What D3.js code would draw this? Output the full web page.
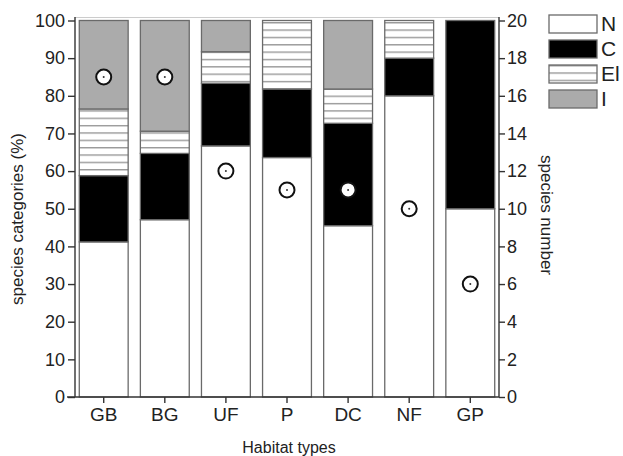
<!DOCTYPE html>
<html>
<head>
<meta charset="utf-8">
<title>habitat species categories</title>
<style>
  body { margin: 0; background: #fff; }
  text { font-family: "Liberation Sans", Arial, sans-serif; fill: #222; }
</style>
</head>
<body>
<svg width="623" height="456"></svg>
<script src="https://d3js.org/d3.v7.min.js"></script>
<script>

// values (percent of species per category)
var habitats = ["GB", "BG", "UF", "P", "DC", "NF", "GP"];
var catN  = [41.2, 47.1, 66.7, 63.6, 45.5, 80.0, 50.0];
var catC  = [17.6, 17.6, 16.6, 18.2, 27.2, 10.0, 50.0];
var catEl = [17.7,  5.9,  8.4, 18.2,  9.1, 10.0,  0.0];
var catI  = [23.5, 29.4,  8.3,  0.0, 18.2,  0.0,  0.0];
var speciesNumber = [17, 17, 12, 11, 11, 10, 6];
var categories = ["N", "C", "El", "I"];
var leftTicks = [0, 10, 20, 30, 40, 50, 60, 70, 80, 90, 100];
var rightTicks = [0, 2, 4, 6, 8, 10, 12, 14, 16, 18, 20];

(function () {
    var table = habitats.map(function (h, i) {
        return { habitat: h, N: catN[i], C: catC[i], El: catEl[i], I: catI[i], n: speciesNumber[i] };
    });

    var svg = d3.select("svg"),
        pLeft = 75, pRight = 499, pTop = 20.5, pBottom = 397;

    var x = d3.scaleBand()
        .domain(habitats)
        .range([pLeft, pRight])
        .paddingInner(0.2)
        .paddingOuter(0.07);

    var y = d3.scaleLinear().domain([0, 100]).range([pBottom, pTop]);
    var y2 = d3.scaleLinear().domain([0, 20]).range([pBottom, pTop]);

    // hatch pattern for El
    var pat = svg.append("defs").append("pattern")
        .attr("id", "hatch")
        .attr("patternUnits", "userSpaceOnUse")
        .attr("width", 10)
        .attr("height", 7.35);
    pat.append("rect").attr("width", 10).attr("height", 7.35).attr("fill", "#fff");
    pat.append("rect").attr("width", 10).attr("height", 1.4).attr("fill", "#999");

    var fills = { N: "#fff", C: "#000", El: "url(#hatch)", I: "#ababab" };

    // frame top line
    svg.append("line")
        .attr("x1", pLeft).attr("x2", pRight)
        .attr("y1", 17.5).attr("y2", 17.5)
        .attr("stroke", "#ccc").attr("stroke-width", 1.2);

    var series = d3.stack().keys(categories)(table);

    svg.append("g").selectAll("g")
        .data(series)
        .enter().append("g")
        .attr("fill", function (d) { return fills[d.key]; })
        .selectAll("rect")
        .data(function (d) { return d.filter(function (e) { return e[1] - e[0] > 0; }); })
        .enter().append("rect")
        .attr("x", function (d) { return x(d.data.habitat); })
        .attr("y", function (d) { return y(d[1]); })
        .attr("width", x.bandwidth())
        .attr("height", function (d) { return y(d[0]) - y(d[1]); })
        .attr("stroke", "#6a6a6a")
        .attr("stroke-width", 1.3);

    // species number markers
    var marks = svg.append("g").selectAll("g")
        .data(table)
        .enter().append("g")
        .attr("transform", function (d) {
            return "translate(" + (x(d.habitat) + x.bandwidth() / 2) + "," + y2(d.n) + ")";
        });
    marks.append("circle").attr("r", 7.5).attr("fill", "#fff").attr("stroke", "#111").attr("stroke-width", 2);
    marks.append("circle").attr("r", 1).attr("fill", "#333");

    // axes
    var axisL = svg.append("g")
        .attr("transform", "translate(" + pLeft + ",0)")
        .call(d3.axisLeft(y).tickValues(leftTicks).tickSize(7).tickPadding(3).tickSizeOuter(0));
    var axisR = svg.append("g")
        .attr("transform", "translate(" + pRight + ",0)")
        .call(d3.axisRight(y2).tickValues(rightTicks).tickSize(6).tickPadding(2).tickSizeOuter(0));
    var axisB = svg.append("g")
        .attr("transform", "translate(0," + pBottom + ")")
        .call(d3.axisBottom(x).tickSize(6).tickPadding(5).tickSizeOuter(0));

    [axisL, axisR].forEach(function (a) {
        a.select(".domain").attr("d", "M0," + pBottom + "V17");
    });
    axisB.select(".domain").attr("d", "M" + (pLeft - 8) + ",0H" + pRight);
    [axisL, axisR, axisB].forEach(function (a) {
        a.attr("font-family", null).attr("font-size", null);
        a.selectAll("path, line").attr("stroke", "#333").attr("stroke-width", 1.4);
        a.selectAll("text").attr("fill", "#222");
    });
    axisL.selectAll("text").attr("font-size", 18);
    axisR.selectAll("text").attr("font-size", 18);
    axisB.selectAll("text").attr("font-size", 19);

    // axis titles
    svg.append("text")
        .attr("transform", "translate(23,219) rotate(-90)")
        .attr("text-anchor", "middle")
        .attr("font-size", 17)
        .text("species categories (%)");

    svg.append("text")
        .attr("transform", "translate(541,215) rotate(90)")
        .attr("text-anchor", "middle")
        .attr("font-size", 17)
        .text("species number");

    svg.append("text")
        .attr("x", 289).attr("y", 453)
        .attr("text-anchor", "middle")
        .attr("font-size", 16)
        .text("Habitat types");

    // legend
    var legend = svg.append("g").selectAll("g")
        .data(categories)
        .enter().append("g")
        .attr("transform", function (d, i) { return "translate(549," + (15 + i * 25) + ")"; });
    legend.append("rect")
        .attr("width", 48).attr("height", 18)
        .attr("fill", function (d) { return fills[d]; })
        .attr("stroke", "#6a6a6a").attr("stroke-width", 1.3);
    legend.append("text")
        .attr("x", 52).attr("y", 16)
        .attr("font-size", 21)
        .text(function (d) { return d; });
})();

</script>
</body>
</html>
